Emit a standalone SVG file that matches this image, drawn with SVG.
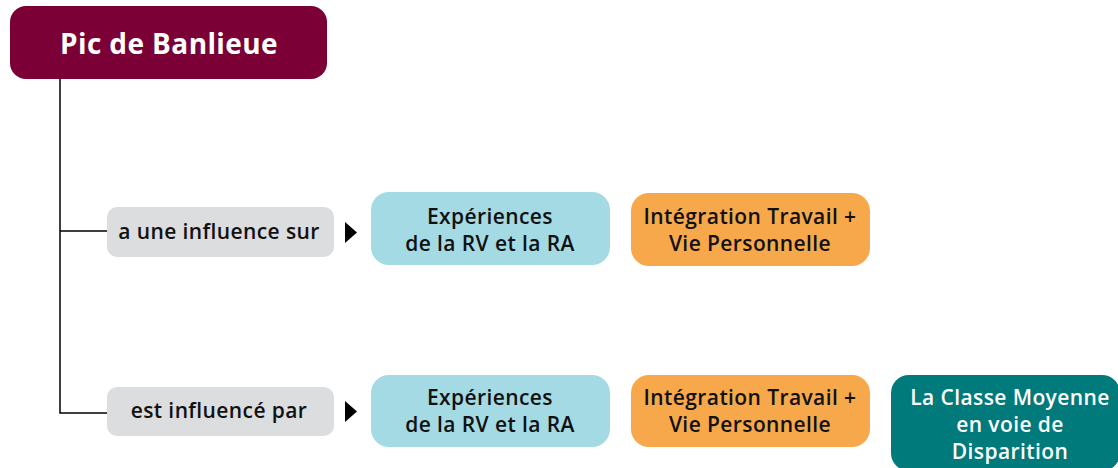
<svg xmlns="http://www.w3.org/2000/svg" width="1118" height="468" viewBox="0 0 1118 468">
<defs>
<style>
text{font-family:"Open Sans","Noto Sans","DejaVu Sans",sans-serif;text-anchor:middle;font-weight:600}
.t{font-size:21px;fill:#111;letter-spacing:0.4px}
.w{font-size:21px;fill:#fff;letter-spacing:0.4px}
.lbl{fill:#dcdddf}
.blue{fill:#a3dae3}
.org{fill:#f7a84a}
.teal{fill:#007a7b}
.con{stroke:#000;stroke-width:1.5;fill:none}
</style>
</defs>
<g id="connectors">
<path class="con" d="M60 79 V413 H107 M60 231 H107"/>
<polygon points="345,222 357,232.5 345,243" fill="#000"/>
<polygon points="345,401 357,411.5 345,422" fill="#000"/>
</g>
<g id="root">
<rect x="10" y="6" width="317" height="73" rx="16" fill="#7a0036"/>
<text x="169" y="54" style="font-size:28px;font-weight:700;fill:#fff;letter-spacing:0.4px">Pic de Banlieue</text>
</g>
<g id="label1">
<rect class="lbl" x="107" y="207" width="227" height="50" rx="10"/>
<text class="t" x="219" y="239">a une influence sur</text>
</g>
<g id="blue1">
<rect class="blue" x="371" y="192" width="239" height="73" rx="18"/>
<text class="t" x="490" y="224">Expériences</text>
<text class="t" x="490" y="251">de la RV et la RA</text>
</g>
<g id="orange1">
<rect class="org" x="631" y="193" width="239" height="73" rx="18"/>
<text class="t" x="750" y="224">Intégration Travail +</text>
<text class="t" x="750" y="251">Vie Personnelle</text>
</g>
<g id="label2">
<rect class="lbl" x="107" y="387" width="227" height="49" rx="10"/>
<text class="t" x="219" y="418">est influencé par</text>
</g>
<g id="blue2">
<rect class="blue" x="371" y="375" width="239" height="72" rx="18"/>
<text class="t" x="490" y="405">Expériences</text>
<text class="t" x="490" y="432">de la RV et la RA</text>
</g>
<g id="orange2">
<rect class="org" x="631" y="375" width="239" height="72" rx="18"/>
<text class="t" x="750" y="405">Intégration Travail +</text>
<text class="t" x="750" y="432">Vie Personnelle</text>
</g>
<g id="teal2">
<rect class="teal" x="891" y="375" width="229" height="96" rx="18"/>
<text class="w" x="1010" y="405">La Classe Moyenne</text>
<text class="w" x="1010" y="432">en voie de</text>
<text class="w" x="1010" y="459">Disparition</text>
</g>
</svg>
